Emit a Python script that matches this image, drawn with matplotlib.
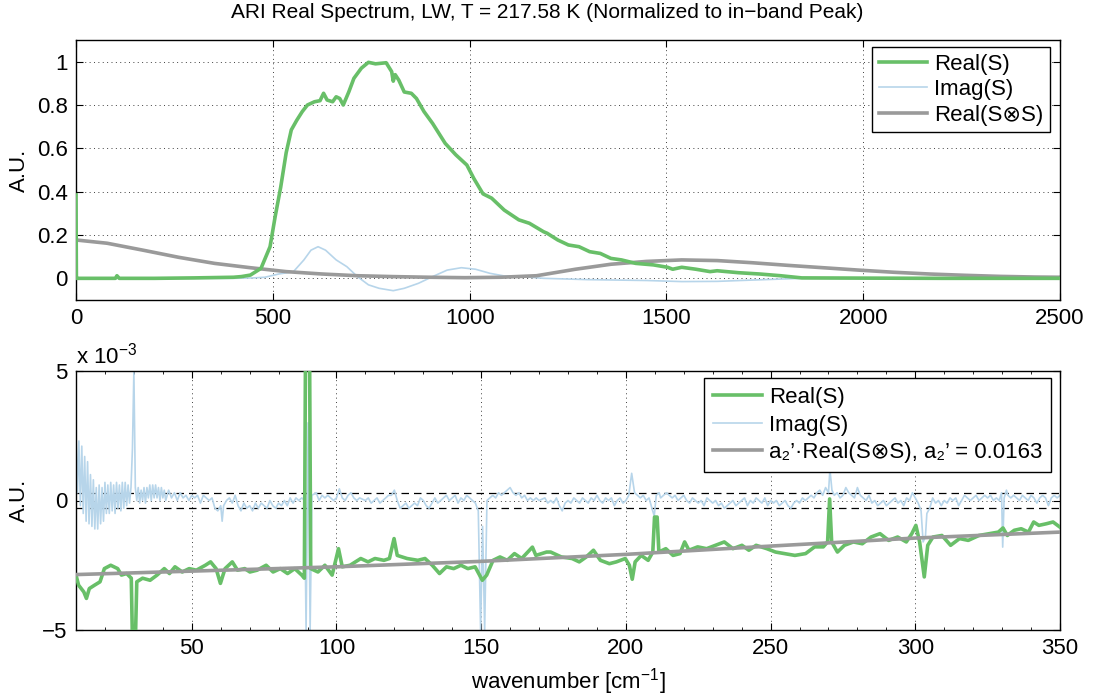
import matplotlib
matplotlib.use("Agg")
import matplotlib.pyplot as plt
from matplotlib.ticker import MultipleLocator, FixedLocator

plt.rcParams['font.family'] = ['Liberation Sans', 'DejaVu Sans']
plt.rcParams['mathtext.fontset'] = 'custom'
plt.rcParams['mathtext.rm'] = 'Liberation Sans'
plt.rcParams['mathtext.it'] = 'Liberation Sans:italic'
plt.rcParams['font.size'] = 16

# ---------------- top panel data (A.U.) ----------------
real_top_x = [0, 1, 5, 60, 100, 104, 110, 200, 300, 400, 420, 443, 470, 493, 506, 520, 534, 547, 561, 575,
              588, 606, 620, 629, 638, 652, 661, 670, 679, 693, 706, 725, 743, 761, 788, 802, 806,
              811, 820, 834, 852, 865, 884, 906, 938, 965, 993, 1011, 1034, 1056, 1088, 1125, 1152,
              1188, 1197, 1224, 1251, 1278, 1305, 1332, 1359, 1386, 1422, 1467, 1503, 1516, 1539,
              1575, 1611, 1629, 1683, 1737, 1790, 1844, 2000, 2200, 2500]
real_top_y = [0.385, 0.0, 0.0, 0.0, 0.0, 0.012, 0.0, 0.0, 0.002, 0.005, 0.008, 0.015, 0.046, 0.146, 0.285,
              0.42, 0.58, 0.685, 0.73, 0.77, 0.80, 0.815, 0.82, 0.854, 0.823, 0.815, 0.838, 0.83,
              0.80, 0.86, 0.923, 0.97, 0.997, 0.99, 0.995, 0.954, 0.91, 0.94, 0.915, 0.86, 0.854,
              0.83, 0.77, 0.715, 0.623, 0.57, 0.523, 0.46, 0.39, 0.37, 0.315, 0.27, 0.254, 0.215,
              0.208, 0.177, 0.154, 0.146, 0.123, 0.115, 0.092, 0.085, 0.069, 0.062, 0.051, 0.042,
              0.051, 0.042, 0.031, 0.035, 0.026, 0.02, 0.012, 0.002, 0.001, 0.0, 0.0]

imag_top_x = [0, 200, 400, 450, 480, 515, 552, 579, 597, 615, 634, 661, 688, 715, 743, 770, 806, 834,
              870, 906, 943, 979, 1015, 1052, 1088, 1134, 1188, 1300, 1450, 1539, 1629, 1718, 1844,
              2100, 2500]
imag_top_y = [0.0, 0.0, 0.0, 0.002, 0.005, 0.02, 0.03, 0.085, 0.13, 0.146, 0.13, 0.085, 0.054, 0.008,
              -0.03, -0.046, -0.057, -0.046, -0.023, 0.008, 0.038, 0.049, 0.042, 0.023, 0.011, 0.008,
              0.0, -0.006, -0.01, -0.015, -0.014, -0.008, 0.0, 0.0, 0.0]

conv_top_x = [0, 79, 170, 261, 352, 443, 534, 625, 715, 806, 897, 988, 1079, 1170, 1269, 1359, 1449,
              1539, 1629, 1718, 1808, 1898, 1988, 2078, 2168, 2258, 2348, 2437, 2500]
conv_top_y = [0.177, 0.162, 0.13, 0.097, 0.069, 0.049, 0.031, 0.02, 0.012, 0.008, 0.005, 0.003, 0.005,
              0.012, 0.042, 0.065, 0.078, 0.085, 0.082, 0.072, 0.06, 0.049, 0.038, 0.028, 0.02,
              0.014, 0.009, 0.006, 0.005]

# ---------------- bottom panel data (units of 1e-3 A.U.) ----------------
real_lo_x = [10, 10.9, 12.7, 13.6, 14.6, 16.4, 18.3, 19.8, 22, 24.4, 25.7, 27.5, 29.1, 29.6, 30.4, 31,
             33, 35.6, 38, 40.5, 42.3, 44.2, 46.7, 49.1, 51.6, 54.7, 56.5, 58.4, 59.9, 61.5, 64,
             65.8, 68.3, 70.1, 72.6, 75.7, 78.1, 80.6, 83.1, 85.6, 88, 88.9, 89.4, 90.6, 91.1,
             93.6, 96, 98.5, 100.7, 102, 104.7, 108.4, 110.9, 113.3, 116.4, 118.3, 119.9, 121,
             124.4, 128.1, 130.6, 133.1, 135.6, 138, 140.5, 143, 145.4, 147.9, 150.4, 151.9,
             154.1, 156.5, 159, 161.5, 164, 167.7, 168.9, 172.6, 174, 177.7, 181.4, 183.9, 186.3,
             188.8, 191.2, 194.3, 196.7, 199.8, 201.2, 202.2, 203.2, 205.3, 207.7, 209.3, 209.9,
             210.8, 211.4, 213.8, 216.3, 218.7, 220.3, 221.8, 224.8, 227.9, 230.9, 234, 237,
             240.1, 242.5, 245, 248.7, 251.7, 254.8, 258.4, 262.1, 265.2, 268.2, 269.7, 270.4,
             271.1, 273.1, 275.5, 278.6, 281.7, 284.7, 287.8, 290.8, 293.9, 296.9, 298.8, 300.2,
             301.5, 303.1, 304.3, 306.1, 309.2, 312.2, 315.3, 318.3, 322, 325.7, 328.7, 330.3,
             331.8, 334.2, 336.6, 339.1, 340.9, 342.7, 345.2, 347.6, 350]
real_lo_y = [-2.88, -3.27, -3.53, -3.78, -3.4, -3.27, -3.14, -2.63, -2.5, -2.63, -2.88, -2.82, -3.0,
             -6.0, -6.0, -3.14, -3.0, -3.08, -2.88, -2.63, -2.82, -2.56, -2.76, -2.63, -2.69, -2.5,
             -2.37, -2.63, -3.2, -2.63, -2.37, -2.69, -2.63, -2.76, -2.69, -2.5, -2.76, -2.63,
             -2.82, -2.63, -2.88, -3.0, 8.0, 8.0, -2.63, -2.76, -2.5, -2.88, -1.86, -2.56, -2.5,
             -2.24, -2.37, -2.24, -2.31, -2.24, -1.47, -2.12, -2.24, -2.31, -2.24, -2.5, -2.82,
             -2.56, -2.63, -2.5, -2.63, -2.56, -3.08, -2.88, -2.31, -2.18, -2.31, -2.05, -2.24,
             -1.8, -2.12, -1.99, -1.99, -2.18, -2.24, -2.37, -2.18, -1.92, -2.31, -2.44, -2.37,
             -2.24, -2.5, -3.04, -2.37, -2.12, -2.31, -1.99, -0.64, -0.64, -1.99, -1.86, -2.12,
             -2.05, -1.6, -1.92, -1.79, -1.86, -1.73, -1.6, -1.86, -1.73, -1.92, -1.73, -1.86,
             -1.99, -2.05, -2.12, -2.05, -1.79, -1.79, -1.6, 0.06, -1.6, -1.99, -1.73, -1.6, -1.67,
             -1.41, -1.28, -1.54, -1.41, -1.6, -1.28, -0.96, -1.6, -2.95, -1.73, -1.41, -1.35,
             -1.73, -1.47, -1.54, -1.35, -1.28, -1.22, -1.06, -1.35, -1.15, -1.09, -1.22, -0.83,
             -0.96, -0.9, -0.83, -1.03]

imag_lo_x = [10.0, 10.5, 11.0, 11.5, 12.0, 12.5, 13.0, 13.5, 14.0, 14.5, 15.0, 15.5, 16.0, 16.5,
             17.0, 17.5, 18.0, 18.5, 19.0, 19.5, 20.0, 20.5, 21.0, 21.5, 22.0, 22.5, 23.0, 23.5,
             24.0, 24.5, 25.0, 25.5, 26.0, 26.5, 27.0, 27.5, 28.0, 28.5, 29.0, 29.5, 30.0, 30.5,
             31.0, 31.5, 32.0, 32.5, 33.0, 33.5, 34.0, 34.5, 35.0, 35.5, 36.0, 36.5, 37.0, 37.5,
             38.0, 38.5, 39.0, 39.5, 40.0, 40.5, 41, 42, 43, 44, 45, 46, 47, 48, 49, 50, 51, 52,
             53, 54, 55, 56, 57, 58, 59, 60, 60.5, 61, 62, 63, 64, 65, 66, 67, 68, 69, 70, 71,
             72, 73, 74, 75, 76, 77, 78, 79, 80, 81, 82, 83, 84, 85, 86, 87, 88, 89, 89.5, 90.2,
             90.9, 91.5, 93, 94, 95, 96, 97, 98, 99, 100, 101, 102, 103, 104, 105, 106, 107, 108,
             110, 111, 112, 113, 114, 115, 116, 117, 118, 119, 120, 121, 122, 123, 124, 125, 126,
             127, 128, 129, 130, 131, 132, 133, 134, 135, 136, 137, 138, 139, 140, 141, 142, 143,
             144, 145, 146, 147, 148, 149, 149.8, 150.5, 151.2, 152, 153, 154, 155, 156, 157,
             158, 159, 160, 161, 162, 163, 164, 165, 166, 167, 168, 169, 170, 172, 173, 174, 175,
             176, 177, 178, 179, 180, 181, 182, 183, 184, 185, 186, 187, 188, 189, 190, 191, 192,
             193, 194, 195, 196, 197, 198, 199, 200, 201, 202, 203, 204, 205, 206, 207, 208, 209,
             209.8, 210.5, 211.5, 212, 213, 214, 215, 216, 217, 218, 219, 220, 221, 222, 223, 224,
             225, 226, 227, 228, 229, 230, 231, 232, 233, 234, 235, 236, 237, 238, 239, 240, 241,
             242, 243, 244, 245, 246, 247, 248, 249, 250, 251, 252, 253, 254, 255, 256, 257, 258,
             259, 260, 261, 262, 263, 264, 265, 266, 267, 268, 269, 270, 270.5, 271.2, 272, 273,
             274, 275, 276, 277, 278, 279, 280, 281, 282, 283, 284, 285, 286, 287, 288, 289, 290,
             291, 292, 293, 294, 295, 296, 297, 298, 299, 300, 301, 302, 302.7, 303.5, 304, 305,
             306, 307, 308, 309, 310, 311, 312, 313, 314, 315, 316, 317, 318, 319, 320, 321, 322,
             323, 324, 325, 326, 327, 328, 329, 329.8, 330.2, 330.7, 331.5, 332, 333, 334, 335,
             336, 337, 338, 339, 340, 341, 342, 343, 344, 345, 346, 347, 348, 349, 350]
imag_lo_y = [2.6, 0.3, 2.3, -0.2, 2.1, -0.5, 1.7, -0.8, 1.5, -0.9, 1.0, -1.0, 0.8, -1.1, 0.5, -1.1,
             0.6, -0.9, 0.5, -0.8, 0.7, -0.5, 0.6, -0.5, 0.7, -0.4, 0.6, -0.5, 0.7, -0.3, 0.6, -0.4,
             0.7, -0.3, 0.7, -0.2, 0.6, -0.1, 0.5, 2.0, 5.0, 0.5, 0.0, 0.5, -0.1, 0.4, 0.0, 0.5,
             -0.1, 0.5, 0.1, 0.6, 0.0, 0.6, 0.1, 0.6, 0.1, 0.5, 0.0, 0.5, 0.1, 0.4, 0.0, 0.4, 0.1,
             0.3, 0.0, 0.3, 0.1, 0.2, 0.0, 0.2, 0.1, 0.2, -0.1, 0.2, 0.1, 0.0, 0.1, -0.3, -0.4,
             -0.2, -0.8, -0.2, 0.0, 0.1, -0.1, 0.2, -0.2, -0.4, -0.1, -0.3, -0.2, -0.4, -0.1,
             -0.3, -0.1, -0.2, -0.3, 0.0, -0.2, -0.3, -0.1, -0.2, 0.0, -0.2, 0.1, -0.1, 0.1, 0.0,
             0.1, 0.0, -5.0, 3.0, -5.0, 0.2, 0.3, 0.0, 0.2, 0.1, 0.2, 0.1, 0.0, 0.1, 0.45, 0.1,
             0.0, 0.2, 0.3, 0.1, 0.0, 0.1, 0.0, 0.1, -0.1, 0.0, 0.1, -0.1, 0.0, 0.1, 0.2, 0.2, 0.4,
             0.0, -0.3, -0.2, -0.1, -0.3, -0.2, -0.1, -0.2, 0.1, 0.0, -0.2, -0.3, -0.1, 0.1, -0.1,
             0.0, 0.1, 0.2, 0.0, 0.1, 0.2, -0.1, 0.1, 0.0, 0.2, 0.1, 0.0, -0.1, -0.4, -5.0, -1.0,
             -5.0, 0.0, 0.1, 0.2, 0.1, 0.3, 0.2, 0.3, 0.4, 0.5, 0.3, 0.2, 0.3, 0.1, 0.2, 0.0, 0.1,
             0.0, 0.1, 0.0, 0.1, -0.1, 0.0, -0.1, 0.1, -0.2, -0.4, -0.1, 0.0, -0.1, 0.1, 0.0,
             -0.1, 0.1, 0.0, -0.1, 0.1, 0.0, 0.2, 0.0, -0.1, 0.1, 0.0, 0.1, -0.2, 0.0, 0.1, -0.1,
             0.0, 0.2, 1.05, 0.3, 0.2, 0.1, 0.2, 0.0, 0.1, -0.3, -0.6, 0.2, 0.3, 0.1, 0.2, 0.3,
             0.2, 0.1, 0.2, 0.0, 0.1, 0.2, 0.0, -0.1, 0.1, 0.0, -0.1, 0.0, -0.2, 0.1, 0.0, -0.1,
             0.0, -0.2, -0.1, -0.3, -0.2, -0.1, 0.0, -0.2, -0.1, 0.0, 0.1, -0.2, 0.0, -0.1, 0.1,
             0.0, -0.1, 0.1, -0.2, 0.0, -0.1, 0.0, -0.2, -0.1, 0.0, -0.2, -0.3, -0.1, 0.0, -0.1,
             0.1, 0.0, 0.1, 0.2, 0.1, 0.3, 0.4, 0.2, 0.5, 0.3, 1.2, 0.4, 0.2, 0.3, 0.1, 0.2, 0.5,
             0.3, 0.2, 0.1, 0.5, 0.2, 0.1, 0.0, 0.2, -0.1, 0.0, -0.2, -0.1, 0.0, -0.2, -0.1, 0.0,
             0.1, -0.1, 0.0, -0.2, 0.1, 0.0, 0.3, 0.1, -0.1, -0.4, -1.6, -1.4, -0.5, -0.3, 0.1,
             -0.1, 0.0, -0.2, 0.0, -0.1, 0.1, 0.0, 0.1, -0.2, 0.0, 0.2, 0.1, 0.0, 0.1, 0.2, 0.0,
             0.1, 0.2, 0.1, 0.2, 0.0, 0.1, 0.0, 0.3, -1.8, 0.1, 0.4, 0.2, 0.1, 0.2, 0.1, 0.0, 0.2,
             0.1, 0.0, 0.2, 0.1, -0.1, 0.1, 0.2, 0.1, -0.2, 0.1, 0.2, 0.1, 0.2]

conv_lo_x = [10, 100, 150, 200, 250, 300, 350]
conv_lo_y = [-2.86, -2.56, -2.35, -2.08, -1.76, -1.45, -1.22]

band_limit = 0.3  # dashed reference lines at +/- this (1e-3 A.U.)
a2_value = 0.0163

GREEN = '#68bf68'
BLUE = '#b7d5ea'
GRAY = '#9a9a9a'

W, H = 1094, 696
fig = plt.figure(figsize=(W / 100, H / 100), dpi=100)

def pos(l, t, r, b):
    return [l / W, 1 - b / H, (r - l) / W, (b - t) / H]

ax1 = fig.add_axes(pos(76, 40, 1060, 300))
ax2 = fig.add_axes(pos(76, 371, 1060, 630))

grid_kw = dict(color='0.25', linestyle=(0, (1, 3.5)), linewidth=0.7)

# ---- top ----
ax1.plot(real_top_x, real_top_y, color=GREEN, lw=2.6, label='Real(S)', zorder=3)
ax1.plot(imag_top_x, imag_top_y, color=BLUE, lw=1.2, label='Imag(S)', zorder=2)
ax1.plot(conv_top_x, conv_top_y, color=GRAY, lw=2.6, label='Real(S\u2297S)', zorder=2)
ax1.set_xlim(0, 2500)
ax1.set_ylim(-0.1, 1.1)
ax1.xaxis.set_major_locator(FixedLocator([0, 500, 1000, 1500, 2000, 2500]))
ax1.set_yticks([0, 0.2, 0.4, 0.6, 0.8, 1.0])
ax1.set_yticklabels(['0', '0.2', '0.4', '0.6', '0.8', '1'])
ax1.grid(True, **grid_kw)
ax1.set_ylabel('A.U.')
ax1.yaxis.set_label_coords(-0.047, 0.5)
leg1 = ax1.legend(loc='upper right', bbox_to_anchor=(1050 / W, 1 - 47 / H),
                  bbox_transform=fig.transFigure, borderaxespad=0, fancybox=False,
                  edgecolor='black', framealpha=1, handlelength=2.2, handletextpad=0.3,
                  labelspacing=0.2, borderpad=0.3)
leg1.get_frame().set_linewidth(1.0)

# ---- bottom ----
ax2.plot(imag_lo_x, imag_lo_y, color=BLUE, lw=1.2, label='Imag(S)', zorder=2)
ax2.plot(real_lo_x, real_lo_y, color=GREEN, lw=2.6, label='Real(S)', zorder=3)
ax2.plot(conv_lo_x, conv_lo_y, color=GRAY, lw=2.6,
         label="a\u2082\u2019\u00b7Real(S\u2297S), a\u2082\u2019 = %.4f" % a2_value, zorder=4)
ax2.axhline(band_limit, color='black', lw=0.9, linestyle=(0, (6, 4)), zorder=1)
ax2.axhline(-band_limit, color='black', lw=0.9, linestyle=(0, (6, 4)), zorder=1)
ax2.set_xlim(10, 350)
ax2.set_ylim(-5, 5)
ax2.xaxis.set_major_locator(FixedLocator([50, 100, 150, 200, 250, 300, 350]))
ax2.xaxis.set_minor_locator(MultipleLocator(10))
ax2.set_yticks([-5, 0, 5])
ax2.set_yticklabels(['\u22125', '0', '5'])
ax2.grid(True, which='major', **grid_kw)
ax2.set_ylabel('A.U.')
ax2.yaxis.set_label_coords(-0.047, 0.5)
ax2.set_xlabel('wavenumber [cm$^{\u22121}$]')
ax2.xaxis.set_label_coords(0.5, -0.138)
ax2.text(0.0, 1.008, 'x 10$^{\u22123}$', transform=ax2.transAxes, ha='left', va='bottom')
h, l = ax2.get_legend_handles_labels()
order = [1, 0, 2]
leg2 = ax2.legend([h[i] for i in order], [l[i] for i in order], loc='upper right',
                  bbox_to_anchor=(1051 / W, 1 - 378 / H), bbox_transform=fig.transFigure,
                  borderaxespad=0, fancybox=False, edgecolor='black', framealpha=1,
                  handlelength=2.2, handletextpad=0.3, labelspacing=0.3, borderpad=0.4)
leg2.get_frame().set_linewidth(1.0)

for ax in (ax1, ax2):
    ax.tick_params(which='both', direction='in', top=True, right=True, labelsize=16)
    ax.tick_params(which='major', length=5, width=0.8)
    ax.tick_params(which='minor', length=2.5, width=0.6)
    ax.tick_params(axis='x', pad=6)
    ax.tick_params(axis='y', pad=6)
    for s in ax.spines.values():
        s.set_linewidth(1.0)

fig.text(547 / W, 1 - 12 / H, 'ARI Real Spectrum, LW, T = 217.58 K (Normalized to in\u2212band Peak)',
         ha='center', va='center', fontsize=15)

fig.savefig('out.png', dpi=100)
